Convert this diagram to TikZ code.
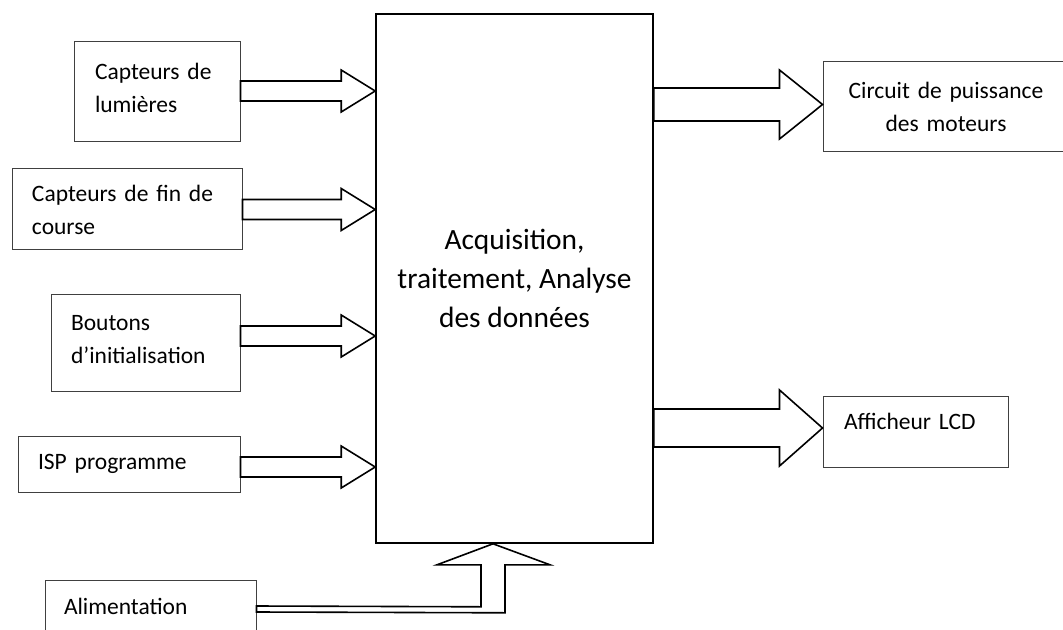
\documentclass[tikz,border=0pt]{standalone}
\usepackage{fontspec}
\setmainfont{Carlito}
\usetikzlibrary{calc}
\newcommand\bigarrow[5]{\draw[arrowline]($(#1)+(0,-#3)$)--($(#2)+(-#5,-#3)$)--($(#2)+(-#5,-#4)$)--(#2)--($(#2)+(-#5,#4)$)--($(#2)+(-#5,#3)$)--($(#1)+(0,#3)$)--cycle;}
\begin{document}
\begin{tikzpicture}[x=0.5pt,y=-0.5pt,
 box/.style={draw=black!75,line width=0.5pt,inner ysep=0pt,inner xsep=10pt,align=left,font=\fontsize{11.75pt}{16.5pt}\selectfont},
 arrowline/.style={draw=black,line width=0.8pt,line join=miter}]
\useasboundingbox(0,0)rectangle(1063,630);
\node[draw,line width=0.8pt,minimum width=138.5pt,minimum height=264.5pt,align=center,font=\fontsize{14.7pt}{19.5pt}\selectfont](main)at(514.5,278.5){Acquisition,\\traitement, Analyse\\des données};
\node[box,text width=62pt,inner xsep=10.5pt,minimum height=50pt,text depth=20.5pt](lum)at(157,92){Capteurs de\\lumières};
\node[box,text width=95pt,minimum height=40.5pt](fin)at(127,209.5){Capteurs de fin de\\course};
\node[box,text width=74.5pt,minimum height=48.5pt,text depth=19.5pt](btn)at(145.5,342.5){Boutons\\d’initialisation};
\node[box,text width=91pt,minimum height=28pt](isp)at(129,464){ISP programme};
\node[box,text width=86.5pt,inner xsep=9.5pt,minimum height=30pt,text depth=3.5pt](alim)at(150.5,610){Alimentation};
\node[box,text width=123pt,inner xsep=0pt,align=center,minimum height=45pt](mot)at(946,107){Circuit de puissance\\des moteurs};
\node[box,text width=71.5pt,inner xsep=10.5pt,minimum height=35.5pt,text depth=10pt](lcd)at(915.5,431.5){Afficheur LCD};
% entrees
\coordinate(in1)at($(main.west|-lum.east)+(0,-1)$);
\coordinate(in2)at(main.west|-fin.east);
\coordinate(in3)at($(main.west|-btn.east)+(0,-6.5)$);
\coordinate(in4)at($(main.west|-isp.east)+(0,3)$);
\bigarrow{lum.east|-in1}{in1}{10}{21}{34}
\bigarrow{fin.east|-in2}{in2}{10}{21}{34}
\bigarrow{btn.east|-in3}{in3}{10}{21}{34}
\bigarrow{isp.east|-in4}{in4}{10}{21}{34}
% sorties
\coordinate(out1)at($(mot.west)+(0,-2.5)$);
\coordinate(out2)at($(lcd.west)+(0,-3.5)$);
\bigarrow{main.east|-out1}{out1}{16.5}{34.5}{43}
\bigarrow{main.east|-out2}{out2}{19}{38}{43}
% alimentation
\coordinate(pwr)at([xshift=-10.75pt]main.south);
\draw[arrowline]($(alim.east)+(0,-4)$)--($(pwr)+(-12,63)$)--($(pwr)+(-12,21)$)--($(pwr)+(-56,21)$)--(pwr)--($(pwr)+(57,21)$)--($(pwr)+(12,21)$)--($(pwr)+(12,69)$)--($(alim.east)+(0,2)$)--cycle;
\end{tikzpicture}
\end{document}
